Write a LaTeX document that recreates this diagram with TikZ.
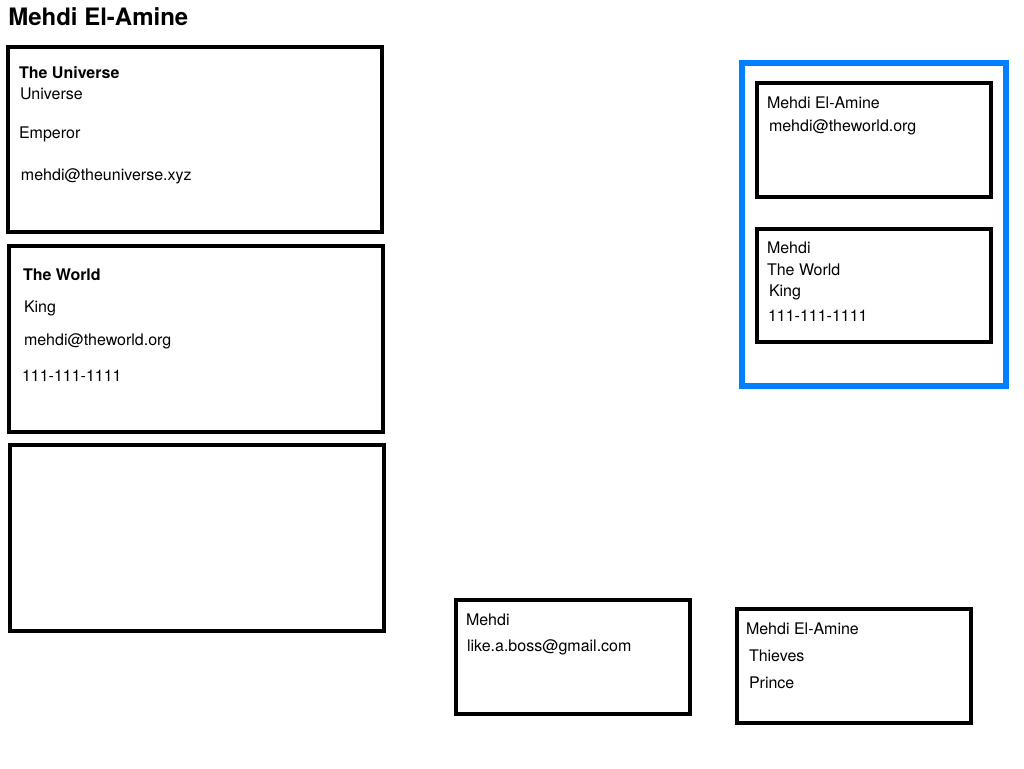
\documentclass[tikz,border=0pt]{standalone}
\usepackage{fontspec}
\setmainfont{TeX Gyre Heros}
\definecolor{selblue}{RGB}{0,128,255}
\begin{document}
\begin{tikzpicture}[x=0.75pt,y=-0.75pt,
  card/.style={draw=black,line width=3pt,fill=none},
  group/.style={draw=selblue,line width=4.5pt},
  txt/.style={anchor=base west,inner sep=0pt,outer sep=0pt,font=\fontsize{12}{14}\selectfont},
  btxt/.style={txt,font=\fontsize{12}{14}\selectfont\bfseries},
  title/.style={anchor=base west,inner sep=0pt,font=\fontsize{18}{22}\selectfont\bfseries}]
\useasboundingbox (0,0) rectangle (1024,768);
% title
\node[title] (title) at (8,25) {Mehdi El-Amine};
% left cards
\draw[card] (8,47) rectangle (382,232);
\draw[card] (9,246) rectangle (383,432);
\draw[card] (10,445) rectangle (384,631);
\node[btxt] (u1) at (19,78) {The Universe};
\node[txt] (u2) at (20,99) {Universe};
\node[txt] (u3) at (19,138) {Emperor};
\node[txt] (u4) at (21,180) {mehdi@theuniverse.xyz};
\node[btxt] (w1) at (23,280) {The World};
\node[txt] (w2) at (24,312) {King};
\node[txt] (w3) at (24,345) {mehdi@theworld.org};
\node[txt] (w4) at (22,381) {111-111-1111};
% blue group
\draw[group] (742,63) rectangle (1006,386);
\draw[card] (757,83) rectangle (991,197);
\draw[card] (757,229) rectangle (991,342);
\node[txt] (a1) at (767,108) {Mehdi El-Amine};
\node[txt] (a2) at (769,131) {mehdi@theworld.org};
\node[txt] (b1) at (767,253) {Mehdi};
\node[txt] (b2) at (767,275) {The World};
\node[txt] (b3) at (769,296) {King};
\node[txt] (b4) at (768,321) {111-111-1111};
% bottom cards
\draw[card] (456,600) rectangle (690,714);
\draw[card] (737,609) rectangle (971,723);
\node[txt] (c1) at (466,625) {Mehdi};
\node[txt] (c2) at (467,651) {like.a.boss@gmail.com};
\node[txt] (d1) at (746,634) {Mehdi El-Amine};
\node[txt] (d2) at (749,661) {Thieves};
\node[txt] (d3) at (749,688) {Prince};
\end{tikzpicture}
\end{document}
